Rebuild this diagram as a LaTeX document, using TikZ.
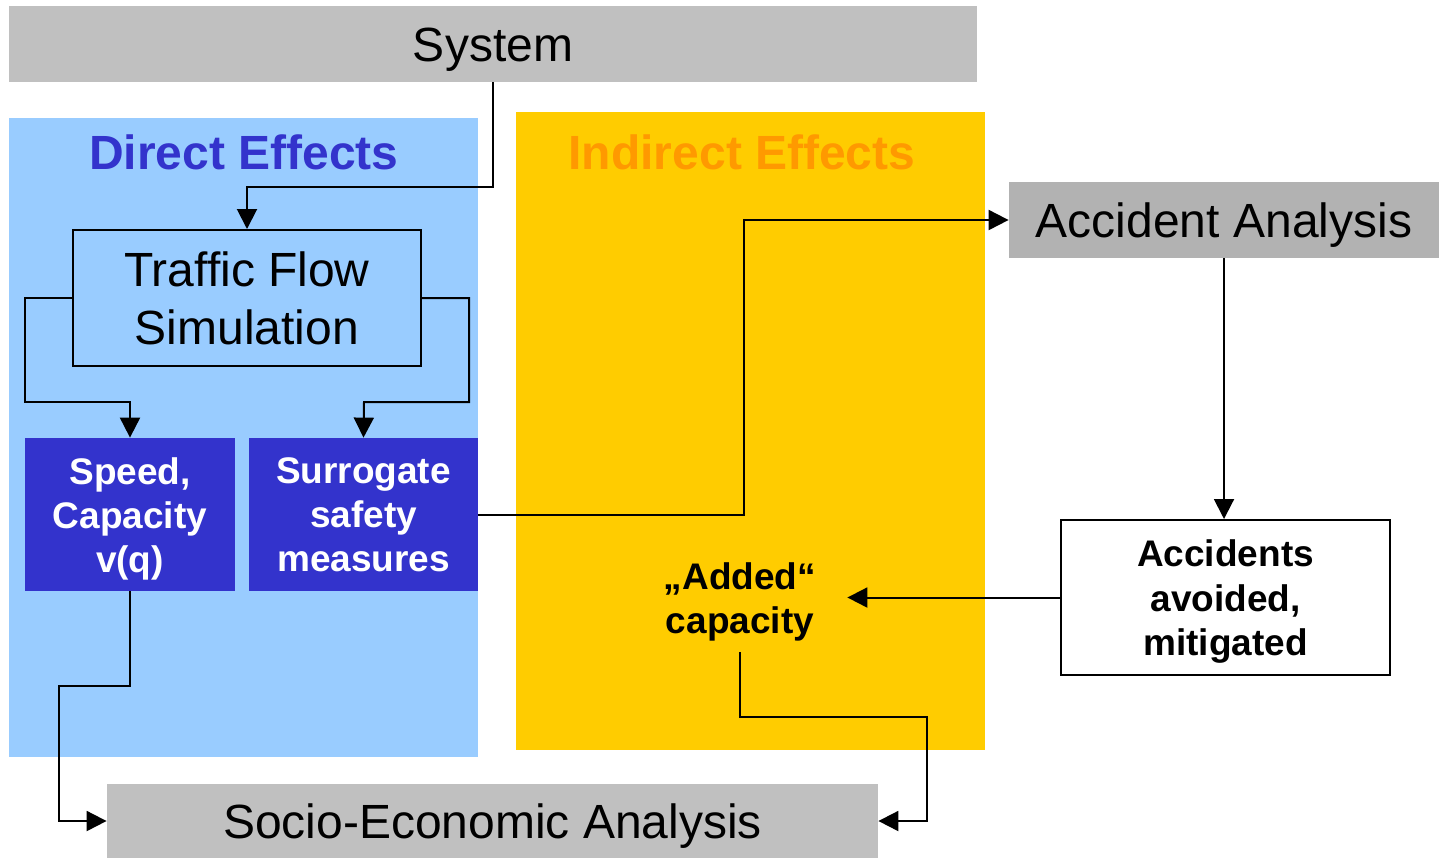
\documentclass[tikz,border=0pt]{standalone}
\usepackage{fontspec}
\setmainfont{Liberation Sans}
\usetikzlibrary{arrows.meta,calc}
\definecolor{boxgray}{HTML}{C0C0C0}
\definecolor{darkgray}{HTML}{B2B2B2}
\definecolor{skyblue}{HTML}{99CCFF}
\definecolor{gold}{HTML}{FFCC00}
\definecolor{orangetitle}{HTML}{FF9900}
\definecolor{royal}{HTML}{3333CC}
\tikzset{
  x=0.5pt, y=-0.5pt,
  bigfont/.style={font=\fontsize{24}{29}\selectfont},
  smallbold/.style={font=\fontsize{18.5}{22}\selectfont\bfseries},
  graybox/.style={fill=boxgray, draw=none, inner sep=0pt, bigfont,
    text height=17.2pt, text depth=0pt},
  panel/.style={draw=none, inner sep=0pt},
  paneltitle/.style={font=\fontsize{24}{29}\selectfont\bfseries},
  bluebox/.style={fill=royal, draw=none, inner sep=0pt},
  framebox/.style={draw=black, line width=1pt, inner sep=0pt},
  boxtext/.style={align=center, inner sep=0pt},
  conn/.style={draw=black, line width=1pt},
  arr/.style={conn, -{Triangle[length=10pt,width=10pt]}},
}
\begin{document}
\begin{tikzpicture}
\useasboundingbox (0,0) rectangle (1439,858);

% background panels
\node[panel, fill=skyblue, minimum width=234.5pt, minimum height=319.5pt] (direct) at (243.5,437.5) {};
\node[panel, fill=gold, minimum width=234.5pt, minimum height=319pt] (indirect) at (750.5,431) {};
\node[paneltitle, text=royal] (directtitle) at (244,152) {Direct Effects};
\node[paneltitle, text=orangetitle] (indirecttitle) at (742,152) {Indirect Effects};

% boxes
\node[graybox, minimum width=484pt, minimum height=38pt] (sys) at (493,44) {System};
\node[graybox, fill=darkgray, minimum width=215pt, minimum height=38pt] (acc) at (1224,220) {Accident Analysis};
\node[framebox, fill=skyblue, minimum width=174pt, minimum height=68pt] (tfs) at (247,298) {};
\node[boxtext, bigfont, yshift=-0.25pt] (tfstext) at (tfs.center) {Traffic Flow\\Simulation};
\node[bluebox, minimum width=105pt, minimum height=76.5pt] (speed) at (130,514.5) {};
\node[boxtext, smallbold, text=white, yshift=-2pt] (speedtext) at (speed.center) {Speed,\\Capacity\\v(q)};
\node[bluebox, minimum width=114.5pt, minimum height=76.5pt] (surr) at (363.5,514.5) {};
\node[boxtext, smallbold, text=white] (surrtext) at (surr.center) {Surrogate\\safety\\measures};
\node[framebox, fill=white, minimum width=164.5pt, minimum height=77.5pt] (avoid) at (1225.5,597.5) {};
\node[boxtext, smallbold, yshift=-2pt] (avoidtext) at (avoid.center) {Accidents\\avoided,\\mitigated};
\node[inner sep=0pt, minimum width=107pt, minimum height=53pt] (added) at (740,599) {};
\node[boxtext, smallbold, yshift=-1.5pt] (addedtext) at (added.center) {„Added“\\capacity};
\node[graybox, minimum width=385.5pt, minimum height=37pt] (socio) at (492.5,821) {Socio-Economic Analysis};

% bend points
\coordinate (s1) at (493,187);
\coordinate (l1) at (25,298);
\coordinate (l2) at (25,402);
\coordinate (l3) at (130,402);
\coordinate (r1) at (469,298);
\coordinate (r2) at (469,402);
\coordinate (r3) at (364,402);
\coordinate (m1) at (744,514.5);
\coordinate (m2) at (744,220);
\coordinate (c1) at (740,717);
\coordinate (c2) at (927,717);
\coordinate (c3) at (927,821);
\coordinate (v1) at (130,686);
\coordinate (v2) at (59,686);
\coordinate (v3) at (59,821);

% connectors
\draw[arr] (sys.south) -- (s1) -| (tfs.north);
\draw[arr] (tfs.west) -- (l1) -- (l2) -- (l3) -- (speed.north);
\draw[arr] (tfs.east) -- (r1) -- (r2) -- (r3) -- (surr.north);
\draw[arr] (surr.east) -- (m1) -- (m2) -- (acc.west);
\draw[arr] (acc.south) -- (acc.south |- avoid.north);
\draw[arr] (avoid.west) -- (avoid.west -| added.east);
\draw[arr] (added.south) -- (c1) -- (c2) -- (c3) -- (socio.east);
\draw[arr] (speed.south) -- (v1) -- (v2) -- (v3) -- (socio.west);
\end{tikzpicture}
\end{document}
